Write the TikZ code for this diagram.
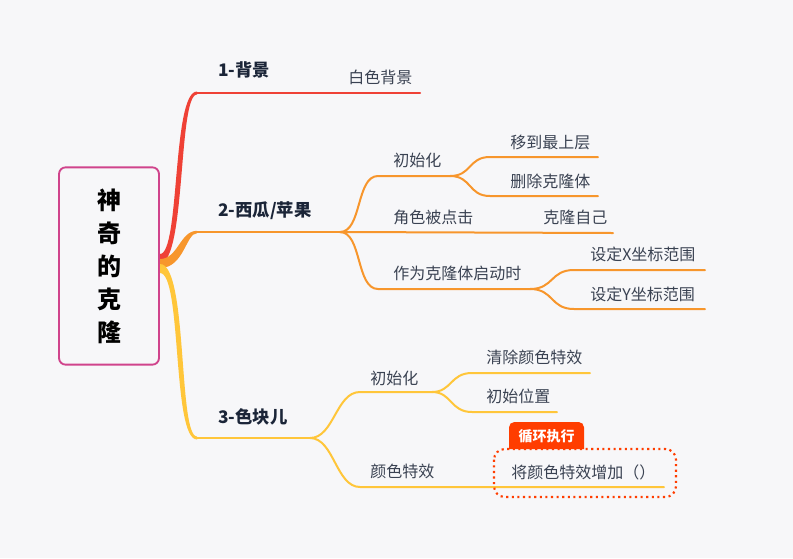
\documentclass[tikz,border=0pt]{standalone}
\usepackage{fontspec}
\setmainfont{Noto Sans CJK SC}
\usepackage{tikz}

\definecolor{bgcol}{HTML}{F7F7F9}
\definecolor{rootcol}{HTML}{D0448C}
\definecolor{redb}{HTML}{EF4136}
\definecolor{orangeb}{HTML}{F7962C}
\definecolor{yellowb}{HTML}{FFC63A}
\definecolor{navy}{HTML}{1B2538}
\definecolor{txt}{HTML}{3A4252}
\definecolor{tagred}{HTML}{FF3D00}

\tikzset{
  topic/.style={anchor=west,inner sep=0pt,font=\fontsize{13}{15}\selectfont\bfseries,text=navy},
  leaf/.style={anchor=west,inner sep=0pt,font=\fontsize{12}{14}\selectfont,text=txt},
  thin/.style={line width=1.5pt,line cap=round},
  main/.style={line width=1.6pt,line cap=round}
}

\begin{document}
\begin{tikzpicture}[x=0.75pt,y=-0.75pt]
      \fill[bgcol] (0,0) rectangle (793,558);
      \useasboundingbox (0,0) rectangle (793,558);

      % root
      \node[draw=rootcol,line width=1.4pt,rounded corners=5pt,minimum width=75pt,minimum height=148pt,
            align=center,font=\fontsize{18}{24.8}\selectfont\bfseries,text=black] (root) at (109,266)
            {神\\奇\\的\\克\\隆};

      % 1 background
      \coordinate (b1) at (197,93);
      \fill[redb] (160,254) .. controls (180,254) and (172,91.5) .. (197,91.5) -- (197,94.5)
            .. controls (178,94.5) and (186,263) .. (160,263) -- cycle;
      \draw[main,redb] (b1) -- (420,93);
      \node[topic] (bg) at (218,70) {1-背景};
      \node[leaf] (white) at (348,77) {白色背景};

      % 2 sprite
      \coordinate (b2) at (197,232);
      \fill[orangeb] (160,259) .. controls (178,259) and (180,230.8) .. (197,230.8) -- (197,233.2)
            .. controls (186,233.2) and (184,268) .. (160,268) -- cycle;
      \draw[main,orangeb] (b2) -- (340,232);
      \node[topic] (fruit) at (218,211) {2-西瓜/苹果};
      \coordinate (f0) at (340,232);

      \draw[thin,orangeb] (f0) .. controls (362,232) and (356,176) .. (378,176) -- (450,176) coordinate (f1);
      \node[leaf] (init) at (393,160) {初始化};
      \draw[thin,orangeb] (f1) .. controls (472,176) and (468,157) .. (490,157) -- (598,157);
      \draw[thin,orangeb] (f1) .. controls (472,176) and (468,196) .. (490,196) -- (598,196);
      \node[leaf] (top) at (510,142) {移到最上层};
      \node[leaf] (del) at (510,181) {删除克隆体};

      \draw[thin,orangeb] (f0) -- (613,233);
      \node[leaf] (click) at (393,217) {角色被点击};
      \node[leaf] (clone) at (543,217) {克隆自己};

      \draw[thin,orangeb] (f0) .. controls (362,232) and (356,289) .. (378,289) -- (530,289) coordinate (f2);
      \node[leaf] (start) at (393,273) {作为克隆体启动时};
      \draw[thin,orangeb] (f2) .. controls (554,289) and (550,270) .. (574,270) -- (705,270);
      \draw[thin,orangeb] (f2) .. controls (554,289) and (550,309) .. (574,309) -- (705,309);
      \node[leaf] (setx) at (590,254) {设定X坐标范围};
      \node[leaf] (sety) at (590,294) {设定Y坐标范围};

      % 3 block
      \coordinate (b3) at (197,438);
      \fill[yellowb] (160,264) .. controls (188,264) and (178,436.5) .. (197,436.5) -- (197,439.5)
            .. controls (172,439.5) and (182,273) .. (160,273) -- cycle;
      \draw[main,yellowb] (b3) -- (310,438);
      \node[topic] (block) at (218,417) {3-色块儿};
      \coordinate (c0) at (310,438);

      \draw[thin,yellowb] (c0) .. controls (334,438) and (336,392) .. (360,392) -- (432,392) coordinate (c1);
      \node[leaf] (init2) at (370,378) {初始化};
      \draw[thin,yellowb] (c1) .. controls (452,392) and (450,373) .. (472,373) -- (590,373);
      \draw[thin,yellowb] (c1) .. controls (452,392) and (450,412) .. (472,412) -- (557,412);
      \node[leaf] (clear) at (486,357) {清除颜色特效};
      \node[leaf] (pos) at (486,396) {初始位置};

      \draw[thin,yellowb] (c0) .. controls (334,438) and (336,487) .. (360,487) -- (664,487);
      \node[leaf] (effect) at (370,471) {颜色特效};
      \node[leaf] (add) at (511,472) {将颜色特效增加（）};

      % loop frame
      \draw[tagred,line width=1.6pt,dash pattern=on 1.6pt off 2.6pt,rounded corners=8pt]
            (494,449) rectangle (676,497);
      \fill[tagred] (509,449) [rounded corners=4pt] -- (509,422) -- (584,422) [sharp corners] -- (584,449) -- cycle;
      \node[font=\fontsize{10.5}{12}\selectfont\bfseries,text=white,inner sep=0pt] (loop) at (546.5,436) {循环执行};
\end{tikzpicture}
\end{document}
